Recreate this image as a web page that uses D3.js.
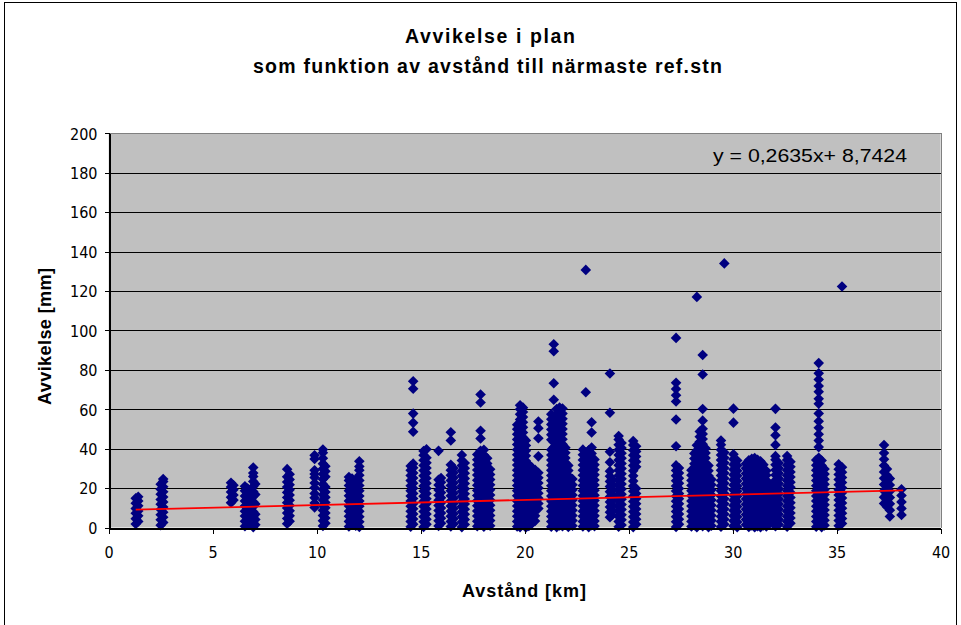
<!DOCTYPE html>
<html>
<head>
<meta charset="utf-8">
<script src="https://cdn.jsdelivr.net/npm/d3@7"></script>
<style>
  html, body { margin: 0; padding: 0; background: #fff; }
  svg { display: block; }
</style>
</head>
<body>
<svg id="chart" width="961" height="625"></svg>
<script>
// Distance to nearest reference station (km) for each group of readings
const stationKm = [
  1.30, 1.42, 2.50, 2.62, 5.88, 6.00, 6.55, 6.68, 6.95, 7.05,
  8.58, 8.70, 9.90, 10.30, 10.42, 11.55, 11.70, 11.88, 12.05,
  14.52, 14.64, 15.14, 15.28, 15.86, 15.98, 16.45, 16.58, 16.98, 17.12,
  17.72, 17.88, 18.04, 18.20, 18.34,
  19.64, 19.78, 19.92, 20.06, 20.20, 20.34, 20.50, 20.66,
  21.28, 21.40, 21.54, 21.68, 21.82, 21.96, 22.10, 22.30,
  22.80, 22.94, 23.08, 23.22, 23.36, 24.10, 24.20,
  24.52, 24.66, 25.22, 25.36, 27.28, 27.42,
  28.02, 28.16, 28.28, 28.42, 28.56, 28.70, 28.84, 28.98,
  29.44, 29.60, 30.04, 30.22,
  30.64, 30.78, 30.92, 31.06, 31.20, 31.34, 31.48, 31.62, 31.76,
  32.06, 32.22, 32.62, 32.78,
  34.02, 34.14, 34.28, 34.42, 35.10, 35.26,
  37.28, 37.42, 37.56, 38.12
];

// Plan deviation (mm) measured at each distance above
const deviationMm = [
  [1.8, 4.5, 7.2, 9.6, 12.3, 14.8],
  [3.1, 5.9, 8.4, 11.0, 13.5, 15.6],
  [1.2, 3.9, 6.5, 9.1, 11.8, 14.2, 16.9, 19.4, 22.0],
  [2.6, 5.2, 7.8, 10.4, 13.0, 15.5, 18.1, 20.7, 23.3, 24.6],
  [12.6, 15.3, 18.0, 20.6, 22.7],
  [13.9, 16.5, 19.2, 21.4],
  [0.6, 3.2, 5.8, 8.3, 10.9, 13.5, 16.0, 18.6, 20.9],
  [1.7, 4.4, 7.0, 9.6, 12.2, 14.7, 17.3, 19.8],
  [0.2, 2.8, 5.4, 8.0, 10.6, 13.1, 15.7, 18.3, 20.8, 23.4, 25.9, 27.6, 30.4],
  [1.4, 4.1, 6.7, 11.9, 16.8, 22.1],
  [1.9, 4.6, 7.3, 9.9, 12.6, 15.2, 17.8, 20.5, 23.1, 25.7, 29.6],
  [3.2, 5.9, 8.5, 11.2, 13.8, 16.5, 19.1, 21.7, 24.3, 27.0],
  [10.2, 12.4, 15.1, 17.3, 20.2, 22.6, 25.4, 27.1, 29.0, 34.8, 36.6],
  [0.8, 3.4, 6.1, 8.7, 11.3, 14.0, 16.6, 19.3, 21.9, 24.5, 27.2, 29.8, 32.4, 35.1, 37.9, 39.6],
  [2.1, 4.8, 7.4, 10.0, 12.7, 15.3, 18.0, 20.6, 25.8, 28.5, 31.1],
  [0.5, 3.1, 5.7, 8.3, 10.9, 13.5, 16.1, 18.7, 21.3, 23.9, 25.6],
  [1.8, 4.4, 7.0, 9.6, 12.2, 14.8, 17.4, 20.0, 22.6, 24.8],
  [0.9, 3.5, 6.2, 8.8, 11.4, 14.1, 16.7, 19.3, 21.9, 24.2],
  [0.3, 2.9, 5.5, 8.2, 10.8, 13.4, 16.0, 18.7, 21.3, 23.9, 26.5, 29.1, 31.0, 33.6],
  [0.4, 3.0, 5.6, 8.2, 10.8, 13.4, 16.0, 18.6, 21.2, 23.8, 26.4, 29.0, 31.2],
  [1.7, 4.3, 6.9, 9.5, 12.1, 14.7, 17.3, 19.9, 22.5, 25.1, 27.7, 30.3, 32.4, 48.6, 53.1, 57.8, 70.4, 74.2],
  [0.3, 2.9, 5.5, 8.1, 10.7, 13.3, 15.9, 18.5, 21.1, 23.7, 26.3, 28.9, 31.5, 34.1, 36.7, 38.8],
  [1.6, 4.2, 6.8, 9.4, 12.0, 14.6, 17.2, 19.8, 22.4, 25.0, 27.6, 30.2, 32.8, 35.4, 39.7],
  [0.8, 3.4, 6.0, 8.6, 11.2, 13.8, 16.4, 19.0, 21.6, 24.2, 38.9],
  [2.1, 4.7, 7.3, 9.9, 12.5, 15.1, 17.7, 20.3, 22.9, 25.1],
  [0.5, 3.1, 5.7, 8.3, 10.9, 13.5, 16.1, 18.7, 21.3, 23.9, 26.5, 29.1, 31.8, 44.2, 48.3],
  [1.8, 4.4, 7.0, 9.6, 12.2, 14.8, 17.4, 20.0, 22.6, 25.2, 27.8, 30.1],
  [0.2, 2.8, 5.4, 8.0, 10.6, 13.2, 15.8, 18.4, 21.0, 23.6, 26.2, 28.8, 31.4, 34.0, 36.8],
  [1.5, 4.1, 6.7, 9.3, 11.9, 14.5, 17.1, 19.7, 22.3, 24.9, 27.5, 30.1, 32.7],
  [0.6, 3.2, 5.8, 8.4, 11.0, 13.6, 16.2, 18.8, 21.4, 24.0, 26.6, 29.2, 31.8, 34.4, 37.0],
  [1.9, 4.5, 7.1, 9.7, 12.3, 14.9, 17.5, 20.1, 22.7, 25.3, 27.9, 30.5, 33.1, 35.7, 38.9, 45.2, 49.1, 63.4, 67.5],
  [0.4, 3.0, 5.6, 8.2, 10.8, 13.4, 16.0, 18.6, 21.2, 23.8, 26.4, 29.0, 31.6, 34.2, 36.8, 39.4],
  [1.3, 3.9, 6.5, 9.1, 11.7, 14.3, 16.9, 19.5, 22.1, 24.7, 27.3, 29.9, 32.5, 35.1],
  [0.9, 3.5, 6.1, 8.7, 11.3, 13.9, 16.5, 19.1, 21.7, 24.3, 26.9, 29.5],
  [0.5, 3.1, 5.7, 8.3, 10.9, 13.5, 16.1, 18.7, 21.3, 23.9, 26.5, 29.1, 31.7, 34.3, 36.9, 39.5, 42.1, 44.7, 47.3, 49.9, 52.1],
  [0.2, 2.8, 5.4, 8.0, 10.6, 13.2, 15.8, 18.4, 21.0, 23.6, 26.2, 28.8, 31.4, 34.0, 36.6, 39.2, 41.8, 44.4, 47.0, 49.6, 52.2, 54.8, 57.4, 60.0, 62.0],
  [1.4, 4.0, 6.6, 9.2, 11.8, 14.4, 17.0, 19.6, 22.2, 24.8, 27.4, 30.0, 32.6, 35.2, 37.8, 40.4, 43.0, 45.6, 48.2, 50.8, 53.4, 56.0, 58.6, 60.8],
  [0.0, 2.6, 5.2, 7.8, 10.4, 13.0, 15.6, 18.2, 20.8, 23.4, 26.0, 28.6, 31.2, 33.8, 36.4, 39.0, 41.6, 44.2],
  [0.8, 3.4, 6.0, 8.6, 11.2, 13.8, 16.4, 19.0, 21.6, 24.2, 26.8, 29.4, 32.0],
  [1.9, 4.5, 7.1, 9.7, 12.3, 14.9, 17.5, 20.1, 22.7, 25.3, 27.9, 30.5],
  [3.3, 5.9, 8.5, 11.1, 13.7, 16.3, 18.9, 21.5, 24.1, 26.7, 29.3],
  [9.6, 12.2, 14.8, 17.4, 20.0, 22.6, 25.2, 27.8, 36.1, 45.3, 50.4, 53.8],
  [0.4, 3.0, 5.6, 8.2, 10.8, 13.4, 16.0, 18.6, 21.2, 23.8, 26.4, 29.0, 31.6, 34.2, 36.8, 39.4, 44.5, 47.1, 49.7, 52.3, 54.9, 57.5],
  [1.7, 4.3, 6.9, 9.5, 12.1, 14.7, 17.3, 19.9, 22.5, 25.1, 27.7, 30.3, 32.9, 35.5, 38.1, 40.7, 43.3, 51.6, 64.8, 73.2, 89.4, 93.0],
  [0.2, 2.8, 5.4, 8.0, 10.6, 13.2, 15.8, 18.4, 21.0, 23.6, 26.2, 28.8, 31.4, 34.0, 36.6, 39.2, 41.8, 44.4, 47.0, 49.6, 52.2, 54.8, 57.4, 60.1],
  [1.1, 3.7, 6.3, 8.9, 11.5, 14.1, 16.7, 19.3, 21.9, 24.5, 27.1, 29.7, 32.3, 34.9, 37.5, 40.1, 42.7, 45.3, 47.9, 50.5, 53.1, 55.7, 58.3, 60.9],
  [0.6, 3.2, 5.8, 8.4, 11.0, 13.6, 16.2, 18.8, 21.4, 24.0, 26.6, 29.2, 31.8, 34.4, 37.0, 39.6, 42.2, 44.8, 47.4, 50.0, 52.6, 55.2, 57.8, 60.4],
  [1.5, 4.1, 6.7, 9.3, 11.9, 14.5, 17.1, 19.7, 22.3, 24.9, 27.5, 30.1, 32.7, 35.3, 37.9, 40.5],
  [0.3, 2.9, 5.5, 8.1, 10.7, 13.3, 15.9, 18.5, 21.1, 23.7, 26.3, 28.9, 31.5],
  [0.9, 3.5, 6.1, 8.7, 11.3, 13.9, 16.5, 19.1, 21.7, 24.6],
  [0.5, 3.1, 5.7, 8.3, 10.9, 13.5, 16.1, 18.7, 21.3, 23.9, 26.5, 29.1, 31.7, 34.3, 36.9, 39.5],
  [1.8, 4.4, 7.0, 9.6, 12.2, 14.8, 17.4, 20.0, 22.6, 25.2, 27.8, 30.4, 33.0, 35.6, 38.2, 68.6, 130.7],
  [0.2, 2.8, 5.4, 8.0, 10.6, 13.2, 15.8, 18.4, 21.0, 23.6, 26.2, 28.8, 31.4, 34.0, 36.6, 39.2],
  [1.2, 3.8, 6.4, 9.0, 11.6, 14.2, 16.8, 19.4, 22.0, 24.6, 27.2, 29.8, 32.4, 35.0, 37.6, 40.6, 48.2, 53.4],
  [0.7, 3.3, 5.9, 8.5, 11.1, 13.7, 16.3, 18.9, 21.5, 24.1, 26.7, 29.3, 31.9, 34.5],
  [5.2, 7.8, 10.4, 13.0, 15.6, 18.2, 20.8, 23.4, 26.0, 28.6, 33.1, 38.4, 58.2, 78.1],
  [6.4, 9.0, 11.6, 14.2, 16.8, 19.4, 22.0, 24.6],
  [0.4, 3.0, 5.6, 8.2, 10.8, 13.4, 16.0, 18.6, 21.2, 23.8, 26.4, 29.0, 31.6, 34.2, 36.8, 39.4, 42.0, 44.6, 46.4],
  [1.3, 3.9, 6.5, 9.1, 11.7, 14.3, 16.9, 19.5, 22.1, 24.7, 27.3, 29.9, 32.5, 35.1, 37.7, 40.3, 42.9],
  [0.2, 2.8, 5.4, 8.0, 10.6, 13.2, 15.8, 18.4, 21.0, 23.6, 26.2, 28.8, 31.4, 34.0, 36.6, 39.2, 41.8, 43.9],
  [1.6, 4.2, 6.8, 9.4, 12.0, 14.6, 17.2, 19.8, 30.8, 33.4, 36.0, 38.6, 41.2],
  [0.3, 2.9, 5.5, 8.1, 10.7, 13.3, 15.9, 18.5, 21.1, 23.7, 26.3, 28.9, 31.5, 41.2, 54.8, 63.9, 67.1, 70.3, 73.4, 96.2],
  [1.6, 4.2, 6.8, 9.4, 12.0, 14.6, 17.2, 19.8, 22.4, 25.0, 27.6, 30.2],
  [0.5, 3.1, 5.7, 8.3, 10.9, 13.5, 16.1, 18.7, 21.3, 23.9, 26.5, 29.1],
  [1.2, 3.8, 6.4, 9.0, 11.6, 14.2, 16.8, 19.4, 22.0, 24.6, 27.2, 29.8, 32.4, 35.0, 37.6],
  [0.1, 2.7, 5.3, 7.9, 10.5, 13.1, 15.7, 18.3, 20.9, 23.5, 26.1, 28.7, 31.3, 33.9, 36.5, 39.1, 41.7, 117.0],
  [1.9, 4.5, 7.1, 9.7, 12.3, 14.9, 17.5, 20.1, 22.7, 25.3, 27.9, 30.5, 33.1, 35.7, 38.3, 40.9, 43.5, 46.1, 48.7],
  [0.7, 3.3, 5.9, 8.5, 11.1, 13.7, 16.3, 18.9, 21.5, 24.1, 26.7, 29.3, 31.9, 34.5, 37.1, 39.7, 42.3, 44.9, 47.5, 50.1, 54.2, 60.1, 77.6, 87.5],
  [1.4, 4.0, 6.6, 9.2, 11.8, 14.4, 17.0, 19.6, 22.2, 24.8, 27.4, 30.0, 32.6, 35.2, 37.8, 40.2],
  [0.2, 2.8, 5.4, 8.0, 10.6, 13.2, 15.8, 18.4, 21.0, 23.6, 26.2, 28.8, 31.4],
  [0.9, 3.5, 6.1, 8.7, 11.3, 13.9, 16.5, 19.1, 21.7, 24.3],
  [0.4, 3.0, 5.6, 8.2, 10.8, 13.4, 16.0, 18.6, 21.2, 23.8, 26.4, 29.0, 31.6, 34.2, 36.8, 39.4, 42.0, 44.1],
  [1.6, 4.2, 6.8, 9.4, 12.0, 14.6, 17.2, 19.8, 22.4, 25.0, 27.6, 30.2, 32.8, 35.4, 38.0, 134.0],
  [0.8, 3.4, 6.0, 8.6, 11.2, 13.8, 16.4, 19.0, 21.6, 24.2, 26.8, 29.4, 32.0, 34.6, 37.2, 53.2, 60.3],
  [0.2, 2.8, 5.4, 8.0, 10.6, 13.2, 15.8, 18.4, 21.0, 23.6, 26.2, 28.8, 31.4, 34.0],
  [1.4, 4.0, 6.6, 9.2, 11.8, 14.4, 17.0, 19.6, 22.2, 24.8, 27.4, 30.0, 32.4],
  [0.3, 2.9, 5.5, 8.1, 10.7, 13.3, 15.9, 18.5, 21.1, 23.7, 26.3, 28.9, 31.5, 34.1],
  [1.0, 3.6, 6.2, 8.8, 11.4, 14.0, 16.6, 19.2, 21.8, 24.4, 27.0, 29.6, 32.2, 34.8],
  [0.1, 2.7, 5.3, 7.9, 10.5, 13.1, 15.7, 18.3, 20.9, 23.5, 26.1, 28.7, 31.3, 33.9, 35.2],
  [0.6, 3.2, 5.8, 8.4, 11.0, 13.6, 16.2, 18.8, 21.4, 24.0, 26.6, 29.2, 31.8, 34.4],
  [0.2, 2.8, 5.4, 8.0, 10.6, 13.2, 15.8, 18.4, 21.0, 23.6, 26.2, 28.8, 31.4, 33.6],
  [1.1, 3.7, 6.3, 8.9, 11.5, 14.1, 16.7, 19.3, 21.9, 24.5, 27.1, 29.7, 31.9],
  [0.5, 3.1, 5.7, 8.3, 10.9, 13.5, 16.1, 18.7, 21.3, 23.9, 26.5, 28.8],
  [1.8, 4.4, 7.0, 9.6, 12.2, 14.8, 17.4, 20.0, 22.3],
  [0.6, 3.2, 5.8, 8.4, 11.0, 13.6, 16.2, 18.8, 21.4, 24.0, 26.6, 29.2, 31.8, 34.4, 36.2, 41.9, 46.8, 50.7, 60.2],
  [1.5, 4.1, 6.7, 9.3, 11.9, 14.5, 17.1, 19.7, 22.3, 24.9, 27.5, 30.1, 32.7],
  [0.4, 3.0, 5.6, 8.2, 10.8, 13.4, 16.0, 18.6, 21.2, 23.8, 26.4, 29.0, 31.6, 34.2, 36.3],
  [2.2, 4.8, 7.4, 10.0, 12.6, 15.2, 17.8, 20.4, 23.0, 25.6, 28.2, 30.8, 33.4],
  [0.4, 3.0, 5.6, 8.2, 10.8, 13.4, 16.0, 18.6, 21.2, 23.8, 26.4, 29.0, 31.6, 34.2],
  [1.7, 4.3, 6.9, 9.5, 12.1, 14.7, 17.3, 19.9, 22.5, 25.1, 27.7, 30.3, 32.9, 35.4, 40.8, 44.1, 47.3, 50.6, 53.9, 57.9, 62.8, 65.3, 68.9, 71.8, 75.1, 78.2, 83.4],
  [0.2, 2.8, 5.4, 8.0, 10.6, 13.2, 15.8, 18.4, 21.0, 23.6, 26.2, 28.8, 31.4, 34.0],
  [1.1, 3.7, 6.3, 8.9, 11.5, 14.1, 16.7, 19.3, 21.9, 24.5, 27.1, 29.7],
  [0.9, 3.5, 6.1, 8.7, 11.3, 13.9, 16.5, 19.1, 21.7, 24.3, 26.9, 29.5, 32.1],
  [2.0, 4.6, 7.2, 9.8, 12.4, 15.0, 17.6, 20.2, 22.8, 25.4, 28.0, 30.6, 122.3],
  [12.2, 15.4, 18.6, 21.8, 25.0, 28.2, 31.4, 34.6, 37.8, 41.8],
  [10.5, 13.7, 16.9, 20.1, 23.3, 26.5, 29.7],
  [5.6, 8.8, 12.0, 15.2, 18.4, 21.6, 24.8],
  [6.4, 9.7, 13.0, 16.2, 19.4]
];

// Axis ticks
const xTickValues = [0, 5, 10, 15, 20, 25, 30, 35, 40];
const yTickValues = [0, 20, 40, 60, 80, 100, 120, 140, 160, 180, 200];

// Linear trend fitted to the readings
const trendSlope = 0.2635;
const trendIntercept = 8.7424;
const trendKmRange = [1.3, 38.2];

const svg = d3.select("#chart");
const labelFont = "'Liberation Sans Narrow', 'DejaVu Sans Condensed', 'Liberation Sans', Arial, sans-serif";
const titleFont = "'Liberation Sans', Arial, sans-serif";

const x = d3.scaleLinear().domain([0, 40]).range([108.7, 940.6]);
const y = d3.scaleLinear().domain([0, 200]).range([527.5, 133.3]);

// Outer chart frame
svg.append("rect")
  .attr("x", 4.5).attr("y", 2.5)
  .attr("width", 952).attr("height", 660)
  .attr("fill", "#fff").attr("stroke", "#000").attr("stroke-width", 1);

// Plot area background
svg.append("rect")
  .attr("x", x(0)).attr("y", y(200))
  .attr("width", x(40) - x(0)).attr("height", y(0) - y(200))
  .attr("fill", "#c0c0c0");

// Horizontal gridlines
svg.append("g")
  .selectAll("line")
  .data(yTickValues.filter(v => v > 0 && v < 200))
  .join("line")
  .attr("x1", x(0)).attr("x2", x(40))
  .attr("y1", d => Math.round(y(d)) + 0.5).attr("y2", d => Math.round(y(d)) + 0.5)
  .attr("stroke", "#000").attr("stroke-width", 1.2)
  .attr("shape-rendering", "crispEdges");

// Plot area border (top and right)
svg.append("path")
  .attr("d", `M${x(0)},${Math.round(y(200)) + 0.5}H${Math.round(x(40)) + 0.5}V${y(0)}`)
  .attr("fill", "none").attr("stroke", "#808080").attr("stroke-width", 1)
  .attr("shape-rendering", "crispEdges");

// Data points: navy diamonds
const points = [];
stationKm.forEach((km, i) => deviationMm[i].forEach(v => points.push([km, v])));
const r = 5.3;
svg.append("g")
  .selectAll("path")
  .data(points)
  .join("path")
  .attr("transform", d => `translate(${x(d[0])},${y(d[1])})`)
  .attr("d", `M0,${-r}L${r},0L0,${r}L${-r},0Z`)
  .attr("fill", "#000080");

// Trend line
svg.append("line")
  .attr("x1", x(trendKmRange[0])).attr("y1", y(trendSlope * trendKmRange[0] + trendIntercept))
  .attr("x2", x(trendKmRange[1])).attr("y2", y(trendSlope * trendKmRange[1] + trendIntercept))
  .attr("stroke", "#ff0000").attr("stroke-width", 1.8);

// Axes
const yAxis = svg.append("g")
  .attr("transform", `translate(${Math.round(x(0)) + 0.5},0)`)
  .call(d3.axisLeft(y).tickValues(yTickValues).tickSize(5).tickSizeOuter(0).tickPadding(7).tickFormat(d3.format("d")));
const xAxis = svg.append("g")
  .attr("transform", `translate(0,${Math.round(y(0)) + 0.5})`)
  .call(d3.axisBottom(x).tickValues(xTickValues).tickSize(5).tickSizeOuter(0).tickPadding(13).tickFormat(d3.format("d")));

[yAxis, xAxis].forEach(g => {
  g.select(".domain").attr("stroke", "#000").attr("stroke-width", 1.2).attr("shape-rendering", "crispEdges");
  g.selectAll(".tick line").attr("stroke", "#000").attr("shape-rendering", "crispEdges");
  g.selectAll(".tick text")
    .attr("fill", "#000")
    .style("font-family", labelFont)
    .style("font-size", "16px");
});
yAxis.selectAll(".tick text").attr("dy", "0.36em");

// Trend equation
svg.append("text")
  .attr("x", 713).attr("y", 162)
  .attr("textLength", 194).attr("lengthAdjust", "spacingAndGlyphs")
  .style("font-family", titleFont).style("font-size", "19px")
  .attr("fill", "#000")
  .text(`y = ${String(trendSlope).replace(".", ",")}x+ ${String(trendIntercept).replace(".", ",")}`);

// Titles
svg.append("text")
  .attr("x", 405).attr("y", 43)
  .attr("textLength", 170).attr("lengthAdjust", "spacing")
  .style("font-family", titleFont).style("font-size", "19.5px").style("font-weight", "bold")
  .text("Avvikelse i plan");
svg.append("text")
  .attr("x", 253).attr("y", 73)
  .attr("textLength", 469).attr("lengthAdjust", "spacing")
  .style("font-family", titleFont).style("font-size", "19.5px").style("font-weight", "bold")
  .text("som funktion av avstånd till närmaste ref.stn");

// Axis titles
svg.append("text")
  .attr("x", 462).attr("y", 597)
  .attr("textLength", 124).attr("lengthAdjust", "spacing")
  .style("font-family", titleFont).style("font-size", "18px").style("font-weight", "bold")
  .text("Avstånd [km]");
svg.append("text")
  .attr("transform", "translate(51,405) rotate(-90)")
  .attr("textLength", 137).attr("lengthAdjust", "spacing")
  .style("font-family", titleFont).style("font-size", "18px").style("font-weight", "bold")
  .text("Avvikelse [mm]");
</script>
</body>
</html>
